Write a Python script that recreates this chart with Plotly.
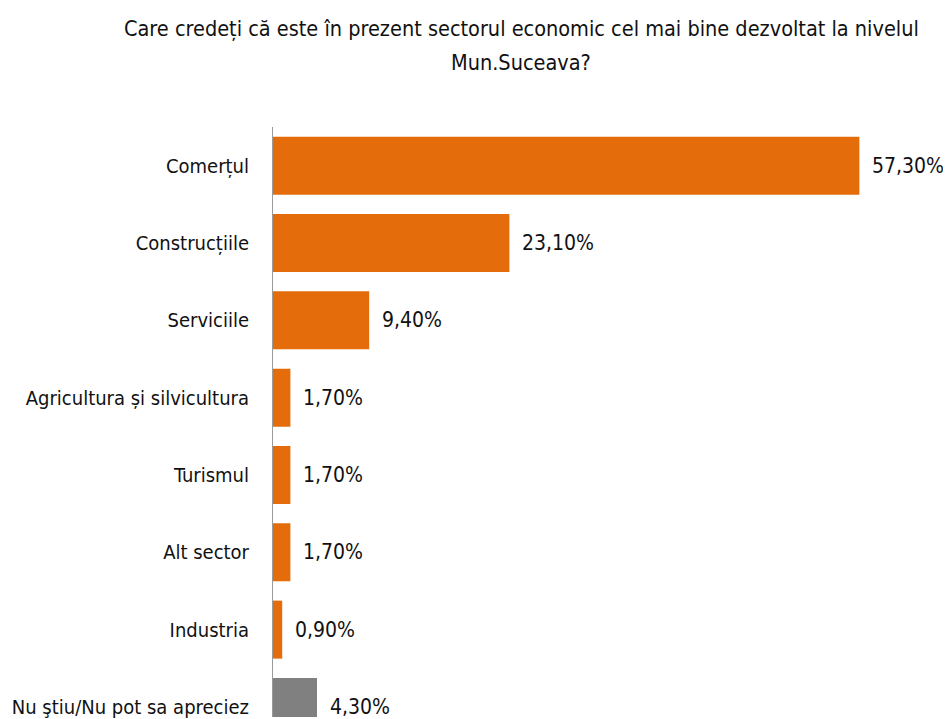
import plotly.graph_objects as go

# ── Data ─────────────────────────────────────────────────────────────
categories = [
    "Comerțul",
    "Construcțiile",
    "Serviciile",
    "Agricultura și silvicultura",
    "Turismul",
    "Alt sector",
    "Industria",
    "Nu ştiu/Nu pot sa apreciez",
]
values = [57.3, 23.1, 9.4, 1.7, 1.7, 1.7, 0.9, 4.3]
value_labels = ["57,30%", "23,10%", "9,40%", "1,70%", "1,70%", "1,70%", "0,90%", "4,30%"]
title_lines = [
    "Care credeți că este în prezent sectorul economic cel mai bine dezvoltat la nivelul",
    "Mun.Suceava?",
]

ORANGE = "#E46C0A"
GREY = "#808080"
FONT = "DejaVu Sans Condensed, Liberation Sans Narrow, sans-serif"

bar_colors = [GREY if c.startswith("Nu ") else ORANGE for c in categories]

fig = go.Figure(go.Bar(
    x=values, y=categories, orientation="h",
    marker=dict(color=bar_colors, line_width=0),
    hoverinfo="skip",
))

# value labels just right of each bar end
for cat, v, lab in zip(categories, values, value_labels):
    fig.add_annotation(
        x=v, y=cat, text=lab, showarrow=False,
        xanchor="left", yanchor="middle", xshift=11,
        font=dict(family=FONT, size=21, color="#111111"),
    )

# two-line title, placed as annotations
for yy, line in zip([1.167, 1.110], title_lines):
    fig.add_annotation(
        x=0.404, y=yy, xref="paper", yref="paper", text=line,
        showarrow=False, xanchor="center", yanchor="middle",
        font=dict(family=FONT, size=21.5, color="#111111"),
    )

fig.update_xaxes(range=[0, 60], visible=False)
fig.update_yaxes(
    range=[7.13, -0.5],
    showline=True, linecolor="#9a9a9a", linewidth=1,
    showgrid=False, ticks="", ticklabelstandoff=19,
    tickfont=dict(family=FONT, size=20, color="#111111"),
)
# the page body has an 8px default margin, so the figure is drawn 8px in
fig.update_layout(
    width=943, height=711,
    margin=dict(l=265, r=64, t=119, b=0),
    bargap=0.25,
    plot_bgcolor="white", paper_bgcolor="white",
    showlegend=False,
)

fig.write_html("out.html")
